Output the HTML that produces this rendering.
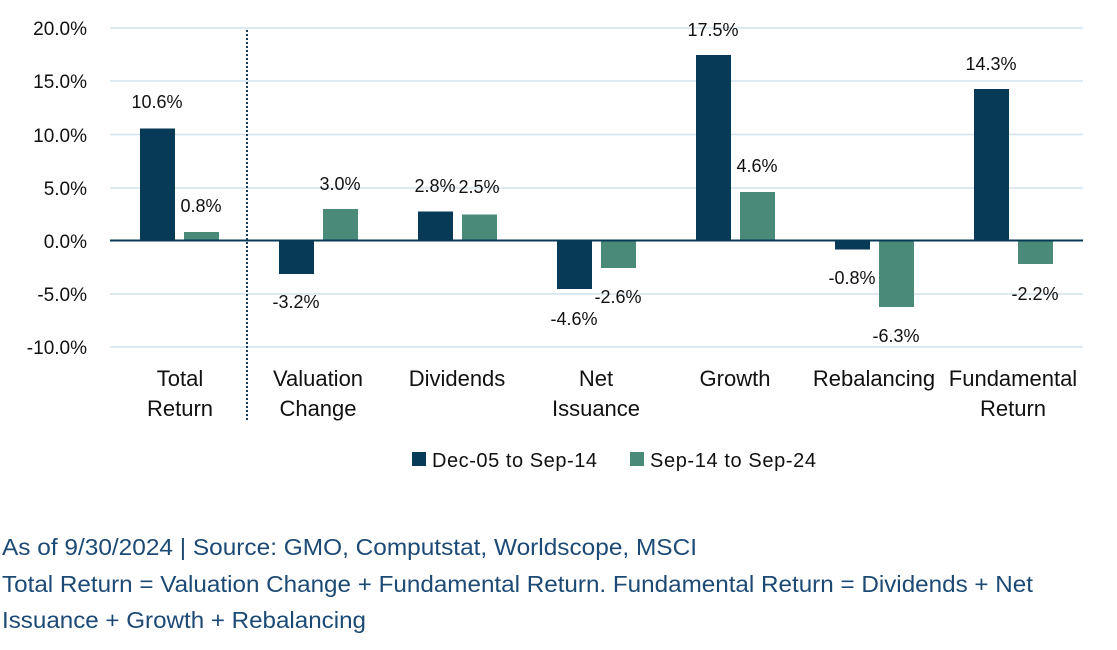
<!DOCTYPE html>
<html><head><style>
body{margin:0;background:#fff;width:1117px;height:645px;overflow:hidden}
text{font-family:"Liberation Sans",sans-serif;fill:#111}
</style></head><body>
<svg width="1117" height="645" xmlns="http://www.w3.org/2000/svg">
<g stroke="#d3e3ee" stroke-width="1.5">
<line x1="110" x2="1083" y1="28" y2="28"/><line x1="110" x2="1083" y1="81" y2="81"/>
<line x1="110" x2="1083" y1="134.5" y2="134.5"/><line x1="110" x2="1083" y1="188" y2="188"/>
<line x1="110" x2="1083" y1="294" y2="294"/><line x1="110" x2="1083" y1="347" y2="347"/>
</g>
<g font-size="19" text-anchor="end">
<text x="87" y="35">20.0%</text><text x="87" y="88">15.0%</text><text x="87" y="142">10.0%</text>
<text x="87" y="195">5.0%</text><text x="87" y="248">0.0%</text><text x="87" y="301">-5.0%</text><text x="87" y="354">-10.0%</text>
</g>
<line x1="247" x2="247" y1="30" y2="422" stroke="#1a3d5a" stroke-width="2" stroke-dasharray="2,2"/>
<g fill="#063a56">
<rect x="140" y="128.5" width="35" height="112"/>
<rect x="279" y="240" width="35" height="34"/>
<rect x="418" y="211.5" width="35" height="29"/>
<rect x="557" y="240" width="35" height="49"/>
<rect x="696" y="55" width="35" height="185.5"/>
<rect x="835" y="240" width="35" height="9.5"/>
<rect x="974" y="89" width="35" height="151.5"/>
</g>
<g fill="#4a8a78">
<rect x="184" y="232" width="35" height="8.5"/>
<rect x="323" y="209" width="35" height="31.5"/>
<rect x="462" y="214.5" width="35" height="26"/>
<rect x="601" y="240" width="35" height="28"/>
<rect x="740" y="192" width="35" height="48.5"/>
<rect x="879" y="240" width="35" height="67"/>
<rect x="1018" y="240" width="35" height="24"/>
</g>
<line x1="110" x2="1083" y1="240.5" y2="240.5" stroke="#063a56" stroke-width="2"/>
<g font-size="18" text-anchor="middle">
<text x="157" y="108">10.6%</text><text x="201" y="212">0.8%</text>
<text x="296" y="308">-3.2%</text><text x="340" y="190">3.0%</text>
<text x="435" y="192">2.8%</text><text x="479" y="193">2.5%</text>
<text x="574" y="325">-4.6%</text><text x="618" y="303">-2.6%</text>
<text x="713" y="36">17.5%</text><text x="757" y="172">4.6%</text>
<text x="852" y="284">-0.8%</text><text x="896" y="342">-6.3%</text>
<text x="991" y="70">14.3%</text><text x="1035" y="300">-2.2%</text>
</g>
<g font-size="22" text-anchor="middle">
<text x="180" y="386">Total</text><text x="180" y="416">Return</text>
<text x="318" y="386">Valuation</text><text x="318" y="416">Change</text>
<text x="457" y="386">Dividends</text>
<text x="596" y="386">Net</text><text x="596" y="416">Issuance</text>
<text x="735" y="386">Growth</text>
<text x="874" y="386">Rebalancing</text>
<text x="1013" y="386">Fundamental</text><text x="1013" y="416">Return</text>
</g>
<rect x="412" y="452" width="14" height="14" fill="#063a56"/>
<text x="432" y="467" font-size="20" textLength="165">Dec-05 to Sep-14</text>
<rect x="630" y="452" width="14" height="14" fill="#4a8a78"/>
<text x="650" y="467" font-size="20" textLength="166">Sep-14 to Sep-24</text>
<g font-size="23">
<text x="2" y="555" style="fill:#1c4a75" textLength="695" lengthAdjust="spacingAndGlyphs">As of 9/30/2024 | Source: GMO, Computstat, Worldscope, MSCI</text>
<text x="2" y="592" style="fill:#1c4a75" textLength="1031" lengthAdjust="spacingAndGlyphs">Total Return = Valuation Change + Fundamental Return. Fundamental Return = Dividends + Net</text>
<text x="2" y="628" style="fill:#1c4a75" textLength="364" lengthAdjust="spacingAndGlyphs">Issuance + Growth + Rebalancing</text>
</g>
</svg>
</body></html>
